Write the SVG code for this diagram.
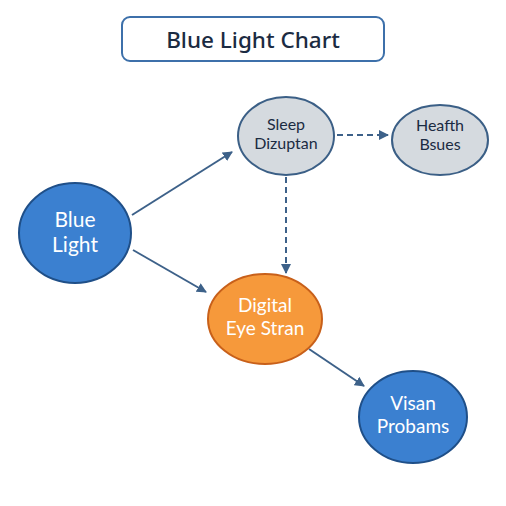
<svg xmlns="http://www.w3.org/2000/svg" width="506" height="506" viewBox="0 0 506 506">
<defs>
<marker id="ah" viewBox="0 0 10 10" refX="9" refY="5" markerWidth="5" markerHeight="5" orient="auto" markerUnits="strokeWidth">
<path d="M0,0 L10,5 L0,10 z" fill="#3d6189"/>
</marker>
<style>
text{font-family:Lato,"Noto Sans","DejaVu Sans",sans-serif;text-anchor:middle}
.edge{stroke:#3d6189;stroke-width:2;fill:none;marker-end:url(#ah)}
.dash{stroke-dasharray:6 4}
.blue{fill:#3b80d0;stroke:#1f4f88;stroke-width:2}
.grey{fill:#d5dadf;stroke:#3b5f86;stroke-width:2}
.orange{fill:#f6993b;stroke:#c8601a;stroke-width:2}
.wt{fill:#ffffff}
.dt{fill:#1b2b42}
.tt{font-family:"Noto Sans","Open Sans",sans-serif;font-weight:500}
</style>
</defs>
<rect width="506" height="506" fill="#ffffff"/>
<g id="title">
<rect x="122" y="17" width="262" height="44" rx="8" fill="#ffffff" stroke="#3d70aa" stroke-width="2"/>
<text x="253" y="48" font-size="22.5" class="dt tt">Blue Light Chart</text>
</g>
<g id="connectors">
<line class="edge" x1="132" y1="215" x2="232" y2="152"/>
<line class="edge" x1="133" y1="250" x2="206" y2="292"/>
<line class="edge dash" x1="337" y1="135" x2="388" y2="135"/>
<line class="edge dash" x1="286" y1="177" x2="286" y2="273"/>
<line class="edge" x1="309" y1="349" x2="364" y2="386"/>
</g>
<g id="blue-light">
<ellipse cx="75" cy="233" rx="56" ry="50" class="blue"/>
<text x="75" y="227" font-size="21" class="wt">Blue</text>
<text x="75" y="252" font-size="21" class="wt">Light</text>
</g>
<g id="sleep">
<ellipse cx="286" cy="136" rx="48" ry="39" class="grey"/>
<text x="286" y="130" font-size="16" class="dt">Sleep</text>
<text x="286" y="149" font-size="16" class="dt">Dizuptan</text>
</g>
<g id="health">
<ellipse cx="440" cy="140" rx="48" ry="35" class="grey"/>
<text x="440" y="131" font-size="16" class="dt">Heafth</text>
<text x="440" y="150" font-size="16" class="dt">Bsues</text>
</g>
<g id="digital">
<ellipse cx="265" cy="319" rx="57" ry="45" class="orange"/>
<text x="265" y="312" font-size="19" class="wt">Digital</text>
<text x="265" y="335" font-size="19" class="wt">Eye Stran</text>
</g>
<g id="visan">
<ellipse cx="413" cy="417" rx="54" ry="46" class="blue"/>
<text x="413" y="410" font-size="19" class="wt">Visan</text>
<text x="413" y="433" font-size="19" class="wt">Probams</text>
</g>
</svg>
